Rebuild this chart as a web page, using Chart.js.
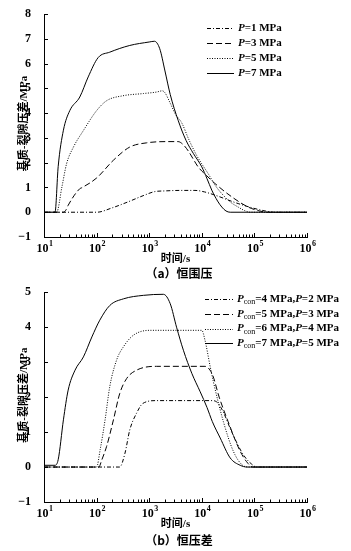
<!DOCTYPE html>
<html>
<head>
<meta charset="utf-8">
<script src="https://cdn.jsdelivr.net/npm/chart.js@4.4.0/dist/chart.umd.min.js"></script>
<style>
  html, body { margin: 0; padding: 0; background: #fff; }
  .box { position: absolute; left: 0; width: 351px; }
  .box canvas { display: block; }
  #boxA { top: 0; height: 280px; }
  #boxB { top: 280px; height: 271px; }
</style>
</head>
<body>
<div class="box" id="boxA"><canvas id="chartA" width="351" height="280"></canvas></div>
<div class="box" id="boxB"><canvas id="chartB" width="351" height="271"></canvas></div>
<script>
// 刻度
const xTickExp = [1, 2, 3, 4, 5, 6];
const yTicksA = [-1, 0, 1, 2, 3, 4, 5, 6, 7, 8];
const yTicksB = [-1, 0, 1, 2, 3, 4, 5];

// (a) 恒围压, P = 1/3/5/7 MPa
const pressA = [1, 3, 5, 7];
const tA1 = [10, 100, 200, 398, 794, 1259, 1995, 3981, 7413, 11220, 17783, 48978, 138038, 245471, 1e6];
const vA1 = [0, 0, 0.18, 0.42, 0.68, 0.83, 0.86, 0.88, 0.88, 0.82, 0.69, 0.35, 0.08, 0, 0];
const tA3 = [10, 23.4, 26.3, 28.8, 47.9, 51.3, 100, 209, 427, 891, 2138, 3548, 4467, 5623, 7079, 8511, 12303, 17783, 37154, 75858, 125893, 181970, 1e6];
const vA3 = [0, 0, 0.1, 0.28, 0.95, 0.98, 1.38, 2.1, 2.63, 2.8, 2.85, 2.85, 2.72, 2.45, 2.1, 1.83, 1.48, 1.16, 0.62, 0.21, 0.05, 0, 0];
const tA5 = [10, 17.4, 21.9, 26.9, 36.3, 56.2, 100, 155, 316, 776, 1380, 1778, 1995, 2512, 3162, 4169, 5623, 7943, 10000, 13183, 17783, 23988, 35481, 48978, 66069, 83176, 1e6];
const vA5 = [0, 0, 1.02, 1.96, 2.63, 3.3, 4.1, 4.5, 4.7, 4.79, 4.85, 4.9, 4.82, 4.4, 3.95, 3.6, 2.95, 2.3, 1.95, 1.56, 1.1, 0.75, 0.4, 0.21, 0.06, 0, 0];
const tA7 = [10, 16.2, 18.6, 23.4, 30.9, 47.9, 69.2, 107, 178, 427, 1000, 1259, 1585, 1995, 2512, 3548, 5012, 6918, 10000, 12589, 15488, 19953, 23988, 28840, 34674, 1e6];
const vA7 = [0, 0, 1.84, 3.31, 4.1, 4.65, 5.46, 6.24, 6.46, 6.73, 6.87, 6.9, 6.6, 5.7, 4.75, 3.71, 2.9, 2.37, 1.83, 1.35, 0.89, 0.45, 0.21, 0.05, 0, 0];

// (b) 恒压差, Pcon / P
const pconB = [4, 5, 6, 7];
const pB = [2, 3, 4, 5];
const tB1 = [10, 275, 347, 427, 575, 759, 1380, 15849, 19953, 25119, 37154, 61660, 89125, 109648, 1e6];
const vB1 = [0, 0, 0.4, 1.06, 1.54, 1.82, 1.9, 1.9, 1.84, 1.6, 1.0, 0.35, 0.08, 0, 0];
const tB2 = [10, 110, 126, 155, 209, 275, 372, 575, 1380, 11482, 15849, 21380, 31623, 53703, 75858, 93325, 1e6];
const vB2 = [0, 0, 0.21, 0.59, 1.35, 2.1, 2.53, 2.77, 2.88, 2.88, 2.65, 2.0, 1.3, 0.45, 0.1, 0, 0];
const tB3 = [10, 100, 117, 145, 178, 240, 324, 501, 1047, 10000, 11482, 14454, 16596, 25704, 39811, 57544, 79433, 1e6];
const vB3 = [0, 0, 0.5, 1.35, 2.3, 3.06, 3.44, 3.77, 3.91, 3.91, 3.63, 2.87, 2.44, 1.3, 0.45, 0.07, 0, 0];
const tB4 = [10, 16.2, 18.6, 23.4, 28.8, 38.9, 56.2, 81.3, 115, 178, 324, 776, 1862, 2512, 3311, 4467, 6457, 9333, 12589, 15849, 22387, 34674, 53703, 72444, 1e6];
const vB4 = [0.05, 0.05, 0.21, 1.35, 2.2, 2.77, 3.15, 3.72, 4.2, 4.62, 4.81, 4.91, 4.94, 4.67, 4.0, 3.34, 2.68, 2.15, 1.7, 1.3, 0.83, 0.26, 0.05, 0, 0];

const SERIF = '"Liberation Serif", "Noto Sans CJK SC", serif';
const CJK = '"Noto Sans CJK SC", sans-serif';
const yTitle = '基质-裂隙压差/MPa';
// 点划线, 虚线, 点线, 实线
const dashes = [[4, 2, 1, 2], [6, 3], [1, 1.5], []];

function pts(t, v) {
    return t.map((x, i) => ({ x: x, y: v[i] }));
}

function makeDatasets(series) {
    return series.map((s, i) => ({
        data: pts(s[0], s[1]),
        borderColor: '#000',
        borderWidth: 1,
        borderDash: dashes[i],
        pointRadius: 0,
        fill: false,
        cubicInterpolationMode: 'monotone',
    }));
}

// 文字片段: 斜体 P, 下标 con
function drawParts(ctx, parts, x, y) {
    ctx.textAlign = 'left';
    ctx.textBaseline = 'middle';
    parts.forEach(p => {
        if (p.it) ctx.font = 'italic bold 11px ' + SERIF;
        else if (p.sub) ctx.font = '8px ' + SERIF;
        else ctx.font = 'bold 11px ' + SERIF;
        ctx.fillText(p.t, x, p.sub ? y + 3 : y);
        x += ctx.measureText(p.t).width;
    });
}

function decor(cfg) {
    return {
        id: 'decor',
        afterDraw(chart) {
            const ctx = chart.ctx, a = chart.chartArea;
            const x = chart.scales.x, y = chart.scales.y;
            ctx.save();
            ctx.strokeStyle = '#000';
            ctx.fillStyle = '#000';
            ctx.lineWidth = 1;
            ctx.setLineDash([]);

            // 刻度线朝内
            ctx.beginPath();
            xTickExp.forEach((e, i) => {
                for (let m = 1; m <= 9; m++) {
                    if (i === xTickExp.length - 1 && m > 1) break;
                    const px = Math.round(x.getPixelForValue(m * Math.pow(10, e))) + 0.5;
                    const len = m === 1 ? 4 : 2.5;
                    ctx.moveTo(px, a.bottom);
                    ctx.lineTo(px, a.bottom - len);
                }
            });
            cfg.yTicks.forEach(v => {
                const py = Math.round(y.getPixelForValue(v)) + 0.5;
                ctx.moveTo(a.left, py);
                ctx.lineTo(a.left + 4, py);
            });
            ctx.stroke();

            // 10^n
            ctx.textAlign = 'left';
            ctx.textBaseline = 'alphabetic';
            xTickExp.forEach(e => {
                const px = x.getPixelForValue(Math.pow(10, e));
                ctx.font = 'bold 12px ' + SERIF;
                const w = ctx.measureText('10').width;
                const x0 = px - w / 2 - 1.5;
                ctx.fillText('10', x0, a.bottom + 15);
                ctx.font = 'bold 8px ' + SERIF;
                ctx.fillText(String(e), x0 + w + 0.5, a.bottom + 9);
            });

            // 纵轴标题
            ctx.save();
            ctx.translate(24, (a.top + a.bottom) / 2 - 2);
            ctx.rotate(-Math.PI / 2);
            ctx.font = 'bold 11px ' + SERIF;
            ctx.textAlign = 'center';
            ctx.textBaseline = 'middle';
            ctx.fillText(yTitle, 0, 0);
            ctx.restore();

            // 图注
            ctx.font = 'bold 12px ' + CJK;
            ctx.textAlign = 'center';
            ctx.textBaseline = 'middle';
            ctx.fillText(cfg.caption, 179, cfg.captionY);

            // 图例
            chart.data.datasets.forEach((ds, i) => {
                const ly = cfg.legendY + i * cfg.legendStep;
                ctx.beginPath();
                ctx.setLineDash(ds.borderDash);
                ctx.moveTo(cfg.lineX0, Math.round(ly) + 0.5);
                ctx.lineTo(cfg.lineX1, Math.round(ly) + 0.5);
                ctx.stroke();
                ctx.setLineDash([]);
                drawParts(ctx, cfg.labels[i], cfg.textX, ly);
            });
            ctx.restore();
        }
    };
}

function makeChart(id, series, cfg) {
    return new Chart(document.getElementById(id), {
        type: 'line',
        data: { datasets: makeDatasets(series) },
        options: {
            responsive: false,
            animation: false,
            layout: { padding: { top: cfg.padTop, right: 44, bottom: 0, left: 0 } },
            plugins: { legend: { display: false }, tooltip: { enabled: false } },
            scales: {
                x: {
                    type: 'logarithmic',
                    min: Math.pow(10, xTickExp[0]),
                    max: Math.pow(10, xTickExp[xTickExp.length - 1]),
                    grid: { display: false },
                    border: { display: true, color: '#000', width: 1 },
                    ticks: { display: false },
                    title: {
                        display: true,
                        text: '时间/s',
                        color: '#000',
                        font: { family: SERIF, size: 11, weight: 'bold' },
                        padding: { top: 0, bottom: cfg.xTitlePad },
                    },
                    afterFit(s) { s.height = cfg.xHeight; },
                },
                y: {
                    min: cfg.yTicks[0],
                    max: cfg.yTicks[cfg.yTicks.length - 1],
                    grid: { display: false },
                    border: { display: true, color: '#000', width: 1 },
                    afterBuildTicks(s) { s.ticks = cfg.yTicks.map(v => ({ value: v })); },
                    ticks: {
                        color: '#000',
                        padding: 5,
                        font: { family: SERIF, size: 12, weight: 'bold' },
                        callback: v => v < 0 ? '\u2212' + Math.abs(v) : String(v),
                    },
                    afterFit(s) { s.width = 44; },
                },
            },
        },
        plugins: [decor(cfg)],
    });
}

makeChart('chartA', [[tA1, vA1], [tA3, vA3], [tA5, vA5], [tA7, vA7]], {
    padTop: 14, xHeight: 43, xTitlePad: 14,
    yTicks: yTicksA,
    caption: '（a）恒围压', captionY: 273,
    legendY: 28, legendStep: 15, lineX0: 207, lineX1: 234, textX: 238,
    labels: pressA.map(p => [{ t: 'P', it: true }, { t: '=' + p + ' MPa' }]),
});

makeChart('chartB', [[tB1, vB1], [tB2, vB2], [tB3, vB3], [tB4, vB4]], {
    padTop: 10, xHeight: 49, xTitlePad: 20,
    yTicks: yTicksB,
    caption: '（b）恒压差', captionY: 260,
    legendY: 19, legendStep: 14.8, lineX0: 205, lineX1: 233, textX: 237,
    labels: pconB.map((c, i) => [
        { t: 'P', it: true }, { t: 'con', sub: true }, { t: '=' + c + ' MPa,' },
        { t: 'P', it: true }, { t: '=' + pB[i] + ' MPa' },
    ]),
});
</script>
</body>
</html>
